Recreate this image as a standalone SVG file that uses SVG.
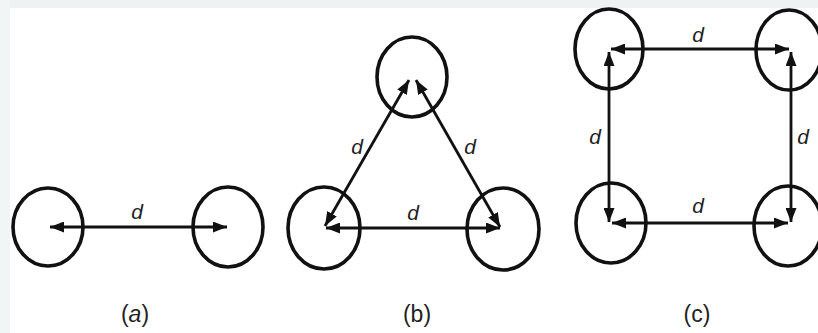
<svg xmlns="http://www.w3.org/2000/svg" width="818" height="333" viewBox="0 0 818 333">
<style>
.node ellipse{fill:none;stroke:#111;stroke-width:3.6}
.conn line{stroke:#111;stroke-width:2.8;marker-start:url(#ah);marker-end:url(#ah)}
.d{font-family:"Liberation Sans",Arial,sans-serif;font-style:italic;font-size:21px;fill:#222;text-anchor:middle}
.cap{font-family:"Liberation Sans",Arial,sans-serif;font-size:23px;fill:#222;text-anchor:middle}
</style>
<defs>
<marker id="ah" viewBox="0 0 14 11" refX="14" refY="5.5" markerWidth="14" markerHeight="11" markerUnits="userSpaceOnUse" orient="auto-start-reverse">
<path d="M0,0 L14,5.5 L0,11 z" fill="#111"/>
</marker>
</defs>
<rect width="818" height="333" fill="#fff"/>
<rect width="818" height="8" fill="#eef2f3"/>
<rect width="10" height="333" fill="#f1f5f6"/>
<g id="a-left" class="node"><ellipse cx="48" cy="227" rx="35" ry="39"/></g>
<g id="a-right" class="node"><ellipse cx="228" cy="227" rx="35" ry="40"/></g>
<g id="b-top" class="node"><ellipse cx="412" cy="77" rx="35" ry="40"/></g>
<g id="b-left" class="node"><ellipse cx="324" cy="228" rx="36" ry="41"/></g>
<g id="b-right" class="node"><ellipse cx="503" cy="229" rx="36" ry="41"/></g>
<g id="c-tl" class="node"><ellipse cx="609" cy="49" rx="34" ry="40"/></g>
<g id="c-tr" class="node"><ellipse cx="789" cy="50" rx="33" ry="40"/></g>
<g id="c-bl" class="node"><ellipse cx="611" cy="223" rx="35" ry="40"/></g>
<g id="c-br" class="node"><ellipse cx="788" cy="226" rx="34" ry="40"/></g>
<g id="connectors" class="conn">
<line x1="50" y1="227" x2="227" y2="227"/>
<line x1="409" y1="80" x2="325" y2="226"/>
<line x1="416" y1="80" x2="500" y2="227"/>
<line x1="326" y1="228" x2="500" y2="228"/>
<line x1="611" y1="49" x2="789" y2="49"/>
<line x1="609" y1="52" x2="609" y2="222"/>
<line x1="791" y1="52" x2="791" y2="222"/>
<line x1="612" y1="223" x2="788" y2="223"/>
</g>
<g id="labels">
<text class="d" x="137" y="219">d</text>
<text class="d" x="357" y="154">d</text>
<text class="d" x="470" y="154">d</text>
<text class="d" x="413" y="220">d</text>
<text class="d" x="698" y="42">d</text>
<text class="d" x="595" y="144">d</text>
<text class="d" x="803" y="144">d</text>
<text class="d" x="698" y="213">d</text>
<text class="cap" x="135" y="322">(<tspan font-style="italic">a</tspan>)</text>
<text class="cap" x="417" y="322">(b)</text>
<text class="cap" x="697" y="322">(c)</text>
</g>
</svg>
